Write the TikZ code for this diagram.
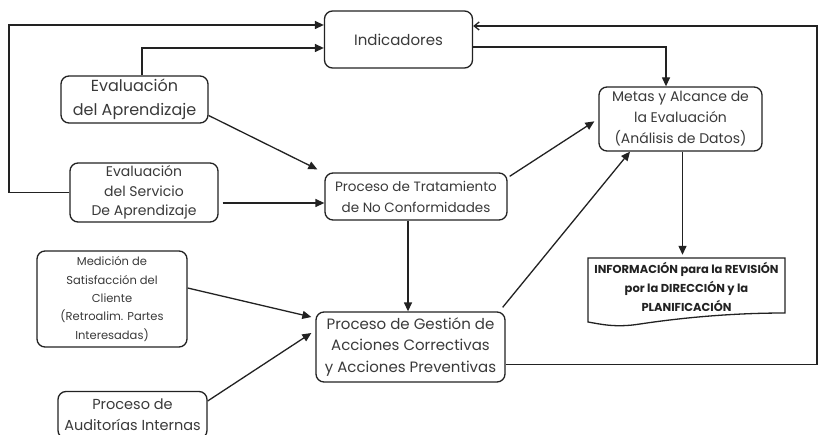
\documentclass[tikz,border=0pt]{standalone}
\usepackage{fontspec}
\setmainfont{Poppins}
\usetikzlibrary{arrows.meta}
\definecolor{ink}{HTML}{222222}
\definecolor{txt}{HTML}{3A3A3A}
\begin{document}
\begin{tikzpicture}[x=1pt,y=-1pt,
  box/.style={draw=ink,line width=1.3pt,rounded corners=8pt,align=center,
    text=txt,inner sep=1pt},
  arr/.style={draw=ink,line width=1.3pt,-{Triangle[length=9pt,width=8pt]}},
  barb/.style={draw=ink,line width=1.3pt,-{Straight Barb[length=5pt,width=8pt]}}]
\useasboundingbox (0,0) rectangle (818,435);
\fill[white] (0,0) rectangle (818,435);

% process boxes
\node[box,minimum width=148pt,minimum height=57pt,font=\fontsize{15}{18}\selectfont]
  (ind) at (398.5,39.5) {Indicadores};
\node[box,minimum width=147pt,minimum height=47pt,font=\fontsize{16}{24}\selectfont]
  (apr) at (134.5,99.5) {Evaluación\\del Aprendizaje};
\node[box,minimum width=148pt,minimum height=59pt,font=\fontsize{14}{19.5}\selectfont]
  (serv) at (144,192.5) {Evaluación\\del Servicio\\De Aprendizaje};
\node[box,minimum width=182pt,minimum height=47pt,font=\fontsize{13.5}{21}\selectfont]
  (trat) at (416,196.5) {Proceso de Tratamiento\\de No Conformidades};
\node[box,minimum width=163pt,minimum height=64pt,font=\fontsize{14}{21}\selectfont]
  (metas) at (680.5,119) {Metas y Alcance de\\la Evaluación\\(Análisis de Datos)};
\node[box,minimum width=150pt,minimum height=96pt,font=\fontsize{11.5}{18.4}\selectfont]
  (med) at (112,299) {Medición de\\Satisfacción del\\Cliente\\(Retroalim. Partes\\Interesadas)};
\node[box,minimum width=189pt,minimum height=70pt,font=\fontsize{15}{21.5}\selectfont]
  (gest) at (410.5,347) {Proceso de Gestión de\\Acciones Correctivas\\y Acciones Preventivas};
\node[box,minimum width=149pt,minimum height=47pt,font=\fontsize{14.5}{21}\selectfont]
  (aud) at (132.5,415) {Proceso de\\Auditorías Internas};

% document-shaped output
\node[minimum width=197pt,minimum height=64pt,align=center,text=ink,inner sep=0pt,
  font=\fontsize{11.5}{19}\selectfont\bfseries]
  (info) at (686.5,287) {INFORMACIÓN para la REVISIÓN\\por la DIRECCIÓN y la\\PLANIFICACIÓN};
\draw[ink,line width=1.3pt] (588,258) -- (785,258) -- (785,313)
  .. controls (730,313) and (680,318) .. (640,324)
  .. controls (615,328) and (600,324) .. (588,322) -- cycle;

% connectors
\draw[arr] (serv.west) -- (9,192.5) |- ([yshift=14.5pt]ind.west);
\draw[arr] ([xshift=7.5pt]apr.north) |- ([yshift=-8.5pt]ind.west);
\draw[arr] ([yshift=-16pt]apr.east) -- ([xshift=-7pt,yshift=3pt]trat.north west);
\draw[arr] ([xshift=4pt,yshift=-10.5pt]serv.east) -- ([yshift=-6.5pt]trat.west);
\draw[barb] ([yshift=-17.5pt]gest.east) -- (817,364.5) -- (817,26) -- ([yshift=13.5pt]ind.east);
\draw[arr] ([yshift=-7.5pt]ind.east) -| ([xshift=-14.5pt]metas.north);
\draw[arr] ([xshift=2pt,yshift=-4pt]trat.north east) -- ([xshift=-4pt,yshift=-35pt]metas.north west);
\draw[arr] ([xshift=-3pt,yshift=4pt]gest.north east) -- ([xshift=-50.5pt]metas.south);
\draw[arr] ([xshift=-8pt]trat.south) -- ([xshift=-8pt]trat.south |- gest.north);
\draw[arr] ([xshift=2pt]metas.south) -- ([xshift=2pt]metas.south |- info.north);
\draw[arr] ([yshift=11pt]med.east) -- ([xshift=-4pt,yshift=30pt]gest.west);
\draw[arr] ([yshift=14pt]aud.east) -- ([xshift=-4pt,yshift=14pt]gest.west);
\end{tikzpicture}
\end{document}
